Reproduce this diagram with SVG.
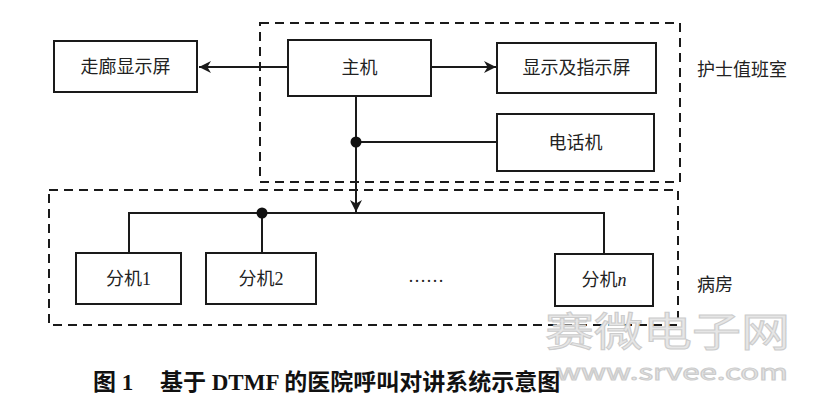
<svg xmlns="http://www.w3.org/2000/svg" width="840" height="420" viewBox="0 0 840 420">
<style>
.box{fill:#fff;stroke:#1a1a1a;stroke-width:2}
.dash{fill:none;stroke:#1a1a1a;stroke-width:2;stroke-dasharray:9 6}
.ln{fill:none;stroke:#1a1a1a;stroke-width:2}
.t{font-family:"Liberation Serif","Noto Sans CJK SC",serif;font-size:18px;fill:#222;text-anchor:middle;dominant-baseline:central}
.lab{font-family:"Liberation Serif","Noto Sans CJK SC",serif;font-size:18px;fill:#222;dominant-baseline:central}
.cap{font-family:"Liberation Serif","Noto Sans CJK SC",serif;font-size:23px;font-weight:bold;fill:#111}
.wm{font-family:"Noto Sans CJK SC",sans-serif;fill:#e6e6e6;stroke:#cccccc;stroke-width:1}
</style>
<defs>
<marker id="ah2" viewBox="0 0 10 10" refX="10" refY="5" markerWidth="12" markerHeight="12" markerUnits="userSpaceOnUse" orient="auto">
<path d="M0,0 L10,5 L0,10 L3,5 Z" fill="#1a1a1a"/>
</marker>
</defs>
<rect width="840" height="420" fill="#fff"/>
<g id="nurse-room">
<rect class="dash" x="260" y="23" width="420" height="159"/>
<text class="lab" x="697" y="70">护士值班室</text>
</g>
<g id="ward">
<rect class="dash" x="49" y="190" width="629" height="135"/>
<text class="lab" x="697" y="285">病房</text>
</g>
<g id="connectors">
<line class="ln" x1="288" y1="67" x2="199" y2="67" marker-end="url(#ah2)"/>
<line class="ln" x1="431" y1="67" x2="496" y2="67" marker-end="url(#ah2)"/>
<line class="ln" x1="356" y1="96" x2="356" y2="212" marker-end="url(#ah2)"/>
<line class="ln" x1="356" y1="142" x2="497" y2="142"/>
<polyline class="ln" points="129,253 129,213 604,213 604,254"/>
<line class="ln" x1="262" y1="213" x2="262" y2="253"/>
<circle cx="356" cy="142" r="5.5" fill="#111"/>
<circle cx="262" cy="213" r="5.5" fill="#111"/>
</g>
<g id="corridor-display">
<rect class="box" x="54" y="41" width="143" height="51"/>
<text class="t" x="125.5" y="66.5">走廊显示屏</text>
</g>
<g id="host">
<rect class="box" x="288" y="40" width="143" height="56"/>
<text class="t" x="359.5" y="68">主机</text>
</g>
<g id="indicator-screen">
<rect class="box" x="497" y="43" width="159" height="50"/>
<text class="t" x="576.5" y="68">显示及指示屏</text>
</g>
<g id="phone">
<rect class="box" x="497" y="114" width="157" height="57"/>
<text class="t" x="575.5" y="142.5">电话机</text>
</g>
<g id="ext1">
<rect class="box" x="76" y="253" width="105" height="51"/>
<text class="t" x="128.5" y="278.5">分机1</text>
</g>
<g id="ext2">
<rect class="box" x="206" y="253" width="110" height="51"/>
<text class="t" x="261" y="278.5">分机2</text>
</g>
<g id="ellipsis">
<text class="t" x="426" y="276">……</text>
</g>
<g id="extn">
<rect class="box" x="555" y="254" width="98" height="52"/>
<text class="t" x="604" y="280">分机<tspan font-style="italic">n</tspan></text>
</g>
<g id="watermark">
<text class="wm" x="545" y="346" font-size="40" textLength="245" lengthAdjust="spacingAndGlyphs">赛微电子网</text>
<text class="wm" x="556" y="380" font-size="21" textLength="232" lengthAdjust="spacingAndGlyphs">www.srvee.com</text>
</g>
<g id="caption">
<text class="cap" x="93" y="390">图 1</text>
<text class="cap" x="160" y="390">基于 DTMF 的医院呼叫对讲系统示意图</text>
</g>
</svg>
